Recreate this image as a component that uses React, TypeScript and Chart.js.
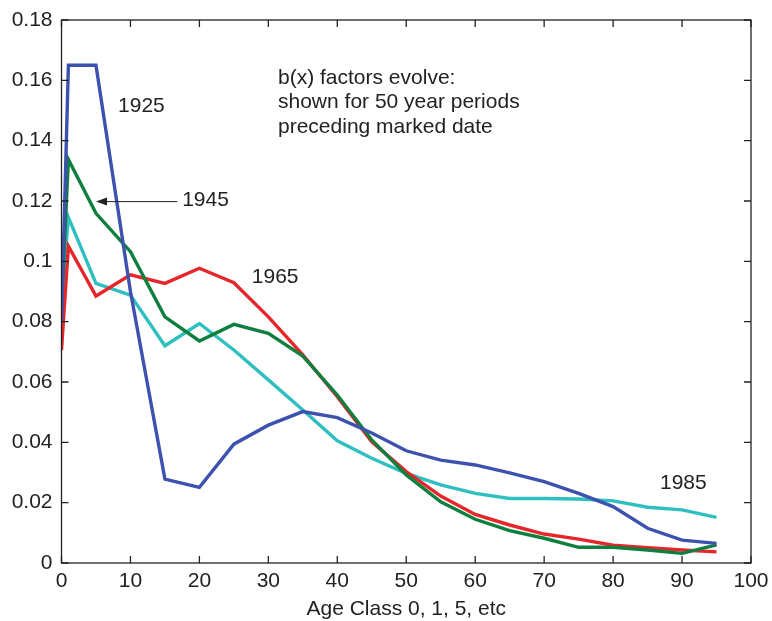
import React, { useEffect, useRef } from "react";
import { Chart, registerables } from "chart.js";

Chart.register(...registerables);

const ages = [0, 1, 5, 10, 15, 20, 25, 30, 35, 40, 45, 50, 55, 60, 65, 70, 75, 80, 85, 90, 95];

const s1925 = [0.080, 0.165, 0.165, 0.090, 0.0278, 0.0251, 0.0394, 0.0457, 0.0502, 0.0482, 0.0431, 0.0372, 0.0341, 0.0325, 0.0299, 0.0270, 0.0231, 0.0187, 0.0115, 0.0076, 0.0065];
const s1945 = [0.085, 0.1338, 0.1159, 0.1032, 0.0816, 0.0736, 0.0791, 0.0761, 0.0686, 0.0557, 0.0408, 0.0292, 0.0203, 0.0145, 0.0107, 0.0082, 0.0052, 0.0052, 0.0043, 0.0032, 0.0060];
const s1965 = [0.0706, 0.105, 0.0885, 0.0955, 0.0927, 0.0977, 0.0929, 0.0816, 0.069, 0.0551, 0.0402, 0.0303, 0.0222, 0.0161, 0.0126, 0.0096, 0.0079, 0.0059, 0.0051, 0.0043, 0.0037];
const s1985 = [0.0878, 0.1146, 0.0927, 0.0888, 0.072, 0.0794, 0.0706, 0.0607, 0.0507, 0.0405, 0.0347, 0.0297, 0.0259, 0.0231, 0.0214, 0.0214, 0.0212, 0.0206, 0.0185, 0.0176, 0.0151];

const seriesNames = ["1925", "1945", "1965", "1985"];
const seriesColors = ["#3d51ae", "#0e7f3e", "#e5262b", "#2fbfc0"];

const xTicks = [0, 10, 20, 30, 40, 50, 60, 70, 80, 90, 100];
const yTicks = [0, 0.02, 0.04, 0.06, 0.08, 0.1, 0.12, 0.14, 0.16, 0.18];

const noteLines = ["b(x) factors evolve:", "shown for 50 year periods", "preceding marked date"];

const FONT = "'Liberation Sans', Arial, Helvetica, sans-serif";
const FS = 21;

const framePlugin = {
  id: "frame",
  afterDatasetsDraw(chart: any) {
    const { ctx, chartArea } = chart;
    const xs = chart.scales.x;
    const ys = chart.scales.y;
    const L = chartArea.left, R = chartArea.right, T = chartArea.top, B = chartArea.bottom;
    ctx.save();
    ctx.strokeStyle = "#222";
    ctx.lineWidth = 1.3;
    ctx.strokeRect(L, T, R - L, B - T);
    const tl = 7;
    ctx.beginPath();
    for (const v of xTicks) {
      const px = xs.getPixelForValue(v);
      ctx.moveTo(px, B); ctx.lineTo(px, B - tl);
      ctx.moveTo(px, T); ctx.lineTo(px, T + tl);
    }
    for (const v of yTicks) {
      const py = ys.getPixelForValue(v);
      ctx.moveTo(L, py); ctx.lineTo(L + tl, py);
      ctx.moveTo(R, py); ctx.lineTo(R - tl, py);
    }
    ctx.stroke();

    // annotations
    ctx.fillStyle = "#222";
    ctx.font = `${FS}px ${FONT}`;
    ctx.textAlign = "left";
    ctx.textBaseline = "middle";
    ctx.fillText("1925", xs.getPixelForValue(8.2), ys.getPixelForValue(0.1515));
    ctx.fillText("1945", xs.getPixelForValue(17.5), ys.getPixelForValue(0.1203));
    ctx.fillText("1965", xs.getPixelForValue(27.6), ys.getPixelForValue(0.0948));
    ctx.fillText("1985", xs.getPixelForValue(86.8), ys.getPixelForValue(0.0265));
    const noteY = [0.1608, 0.1528, 0.1445];
    noteLines.forEach((t, i) => {
      ctx.fillText(t, xs.getPixelForValue(31.4), ys.getPixelForValue(noteY[i]));
    });

    // arrow
    const ax1 = xs.getPixelForValue(16.8);
    const ax2 = xs.getPixelForValue(5.0);
    const ay = ys.getPixelForValue(0.1198);
    ctx.lineWidth = 1;
    ctx.beginPath();
    ctx.moveTo(ax1, ay);
    ctx.lineTo(ax2 + 8, ay);
    ctx.stroke();
    ctx.beginPath();
    ctx.moveTo(ax2, ay);
    ctx.lineTo(ax2 + 11, ay - 4);
    ctx.lineTo(ax2 + 11, ay + 4);
    ctx.closePath();
    ctx.fill();
    ctx.restore();
  },
};

export default function App() {
  const ref = useRef<HTMLCanvasElement>(null);
  useEffect(() => {
    if (!ref.current) return;
    const all = [s1925, s1945, s1965, s1985];
    const chart = new Chart(ref.current, {
      type: "line",
      data: {
        datasets: all.map((s, i) => ({
          label: seriesNames[i],
          data: s.map((v, j) => ({ x: ages[j], y: v })),
          borderColor: seriesColors[i],
          backgroundColor: seriesColors[i],
          borderWidth: 3.4,
          pointRadius: 0,
          tension: 0,
          fill: false,
        })),
      },
      options: {
        animation: false,
        responsive: false,
        maintainAspectRatio: false,
        layout: { padding: { left: 0, top: 20, right: 21, bottom: 0 } },
        plugins: { legend: { display: false }, tooltip: { enabled: false } },
        scales: {
          x: {
            type: "linear",
            min: 0,
            max: 100,
            afterBuildTicks: (s: any) => { s.ticks = xTicks.map((v) => ({ value: v })); },
            afterFit: (s: any) => { s.height = 58; s.paddingLeft = 0; s.paddingRight = 0; },
            grid: { display: false, drawTicks: false },
            border: { display: false },
            ticks: { color: "#222", font: { size: FS, family: FONT }, padding: 6, maxRotation: 0 },
            title: { display: true, text: "Age Class 0, 1, 5, etc", color: "#222", font: { size: FS, family: FONT }, padding: { top: 0, bottom: -1 } },
          },
          y: {
            type: "linear",
            min: 0,
            max: 0.18,
            afterBuildTicks: (s: any) => { s.ticks = yTicks.map((v) => ({ value: v })); },
            afterFit: (s: any) => { s.width = 61.5; s.paddingTop = 0; s.paddingBottom = 0; },
            grid: { display: false, drawTicks: false },
            border: { display: false },
            ticks: {
              color: "#222",
              font: { size: FS, family: FONT },
              padding: 9,
              callback: (v: any) => String(Number(Number(v).toFixed(2))),
            },
          },
        },
      },
      plugins: [framePlugin],
    } as any);
    return () => chart.destroy();
  }, []);
  return (
    <div style={{ position: "absolute", left: 0, top: 0, width: 772, height: 621, background: "#fff" }}>
      <canvas ref={ref} width={772} height={621} style={{ width: 772, height: 621 }} />
    </div>
  );
}
